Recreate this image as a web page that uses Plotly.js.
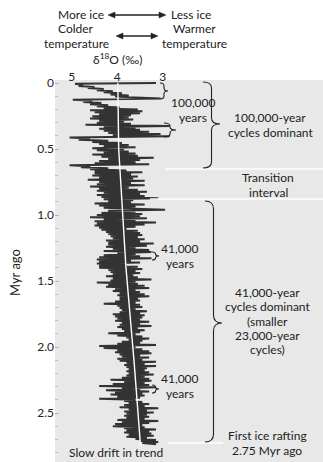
<!DOCTYPE html>
<html><head><meta charset="utf-8">
<script src="https://cdn.plot.ly/plotly-3.0.1.min.js"></script>
<style>html,body{margin:0;padding:0;background:#fff}#g{width:323px;height:462px}</style>
</head><body><div id="g"></div>
<script>
// Age (Myr ago) and delta-18O (per mil)
var ageMyr = [0.000,0.006,0.015,0.022,0.030,0.038,0.046,0.054,0.062,0.070,0.078,0.086,0.094,0.102,0.110,0.118,0.126,
0.135,0.143,0.152,0.160,0.168,0.176,0.185,0.193,0.200,0.207,0.214,0.221,0.228,0.236,0.244,0.252,0.260,0.268,0.276,0.284,0.292,0.300,0.308,0.316,0.325,
0.333,0.340,0.347,0.354,0.362,0.370,0.378,0.386,0.394,0.404,0.413,
0.422,0.430,0.438,0.446,0.454,0.462,0.470,0.478,0.486,0.494,0.502,0.510,0.518,0.526,0.534,0.542,0.550,0.558,0.566,0.575,0.583,0.591,0.600,0.608,0.616,0.622,
0.630,0.638,0.646,0.654,0.662,0.670,0.676,0.684,0.692,0.700,0.708,0.716,0.724,0.733,0.741,0.750,0.758,0.766,0.775,0.783,
0.792,0.800,0.808,0.816,0.824,0.832,0.840,0.848,0.856,0.864,0.872,0.880,0.888,0.896,0.904,0.912,0.920,0.928,0.936,0.944,
0.952,0.960,0.968,0.976,0.984,0.992,1.000,1.008,1.016,1.024,1.032,1.040,1.048,1.056,1.064,1.072,1.080,1.088,1.096,1.104,1.112,
1.120,1.128,1.136,1.144,1.152,1.160,1.168,1.176,1.184,1.192,1.200,1.208,1.216,1.224,1.232,1.240,1.248,1.256,1.264,1.272,1.280,1.288,
1.296,1.304,1.312,1.320,1.328,1.336,1.344,1.352,1.360,1.368,1.376,1.384,1.392,1.400,1.408,1.416,1.424,1.432,1.440,1.448,1.456,
1.464,1.472,1.480,1.488,1.496,1.504,1.512,1.520,1.528,1.536,1.544,1.552,1.560,1.568,1.576,1.584,1.592,1.600,1.608,1.616,1.624,
1.632,1.640,1.648,1.656,1.664,1.672,1.680,1.688,1.696,1.704,1.712,1.720,1.728,1.736,1.744,1.752,1.760,1.768,1.776,1.784,1.792,1.800,1.808,
1.816,1.824,1.832,1.840,1.848,1.856,1.864,1.872,1.880,1.888,1.896,1.904,1.912,1.920,1.928,1.936,1.944,1.952,1.960,1.968,1.976,1.984,1.992,2.000,2.008,
2.016,2.024,2.032,2.040,2.048,2.056,2.064,2.072,2.080,2.088,2.096,2.104,2.112,2.120,2.128,2.136,2.144,2.152,2.160,2.168,2.176,2.184,2.192,2.200,2.208,2.216,2.224,
2.232,2.240,2.248,2.256,2.264,2.272,2.280,2.288,2.296,2.304,2.312,2.320,2.328,2.336,2.344,2.352,2.360,2.368,2.376,2.384,2.392,2.400,2.408,2.416,
2.424,2.432,2.440,2.448,2.456,2.464,2.472,2.480,2.488,2.496,2.504,2.512,2.520,2.528,2.536,2.544,2.552,2.560,2.568,2.576,2.584,2.592,2.600,
2.608,2.616,2.624,2.632,2.640,2.648,2.656,2.664,2.672,2.680,2.688,2.696,2.704,2.712,2.720,2.728,2.736];
var d18O = [3.15,4.93,4.75,4.85,4.50,4.65,4.30,4.45,4.10,4.30,3.90,4.15,3.75,4.05,3.60,3.05,4.98,
4.55,4.75,4.35,4.60,4.20,4.45,3.95,4.30,3.55,4.60,3.45,4.50,3.50,4.40,3.70,4.55,3.75,4.60,3.65,4.40,3.85,4.45,3.70,4.70,2.85,
4.30,3.60,4.40,3.50,4.30,3.30,4.20,3.05,4.10,2.85,5.05,
4.60,4.85,4.20,4.55,3.90,4.40,3.75,4.30,3.60,4.55,3.85,4.45,3.75,4.30,3.60,4.55,3.55,4.35,3.20,4.20,3.50,4.40,3.60,4.50,3.30,5.05,
4.60,4.80,4.20,4.60,3.80,4.50,3.45,4.50,3.70,4.55,3.55,4.40,3.65,4.65,3.40,4.40,3.70,4.45,3.40,4.60,
3.75,4.40,3.55,4.45,3.35,4.30,3.50,4.45,3.40,4.35,3.10,4.30,3.65,4.20,3.70,4.50,3.40,4.40,3.60,4.30,
3.50,2.95,4.20,3.60,4.35,3.45,4.45,3.50,4.60,3.35,4.30,3.60,4.50,3.15,4.45,3.40,4.50,3.60,4.40,3.80,4.35,
3.55,4.25,3.50,4.20,3.45,4.15,3.55,4.10,3.40,4.25,3.50,4.20,3.20,4.20,3.35,4.25,3.60,4.10,3.30,4.30,3.25,4.00,
3.60,4.30,3.50,4.40,3.25,4.45,3.70,4.40,3.50,4.45,3.80,4.40,3.55,4.40,3.45,4.20,3.60,4.15,3.50,4.10,3.65,
4.25,3.55,4.10,3.25,4.15,3.60,4.45,3.55,4.20,3.40,4.25,3.30,4.05,3.60,4.10,3.50,3.95,3.40,4.00,3.30,3.95,
3.55,3.95,3.50,4.05,3.60,4.30,3.50,4.00,3.45,3.95,3.60,3.90,3.35,3.95,3.50,4.10,3.40,4.05,3.45,4.00,3.50,4.05,3.30,
3.90,3.50,3.95,3.25,4.00,3.55,3.90,3.40,3.85,3.50,4.20,3.60,4.00,3.45,3.80,3.30,3.75,3.45,3.90,3.50,4.00,3.15,4.40,3.60,4.30,
3.45,4.00,3.30,4.05,3.25,3.95,3.50,3.90,3.30,4.00,3.45,3.95,3.15,3.80,3.40,3.85,3.15,3.80,3.35,3.75,3.40,3.80,3.30,3.75,3.20,3.80,3.40,
3.90,3.30,4.15,3.25,3.85,3.40,4.10,3.30,4.40,3.15,3.90,3.50,4.25,3.30,4.05,3.45,4.15,3.40,4.00,3.50,4.40,3.60,3.85,3.45,
3.75,3.30,3.85,3.40,3.95,3.10,3.75,3.35,3.85,3.20,3.80,3.35,3.85,3.30,3.80,3.40,4.00,3.10,3.90,3.30,4.05,3.45,4.10,
3.40,3.85,3.15,3.80,3.30,3.85,3.25,3.75,3.20,3.80,3.35,3.60,3.15,3.50,3.10,3.45,3.15];
// Slow drift in trend (white line)
var trendAge = [0, 0.5, 1.4, 2.12, 2.75];
var trendVal = [3.99, 3.97, 3.81, 3.63, 3.49];
var xTicks = [5, 4, 3];
var yTicks = [0, 0.5, 1, 1.5, 2, 2.5];
var yTickText = ['0', '0.5', '1.0', '1.5', '2.0', '2.5'];

// layout geometry (pixels)
var W = 323, H = 462, L = 55, T = 80;
var PW = W - L, PH = H - T;
function px(x){ return (x - L) / PW; }
function py(y){ return (H - y) / PH; }
var FONT = 'Lato, "Open Sans", sans-serif';
var ann = [];
function txt(t, x, y, opt){
  opt = opt || {};
  ann.push(Object.assign({text: t, xref: 'paper', yref: 'paper', x: px(x), y: py(y),
    xanchor: 'center', yanchor: 'middle', showarrow: false, borderpad: 0,
    font: {family: FONT, size: opt.size || 12, color: '#222'}}, opt.extra || {}));
}
function block(lines, x, yc, gap){
  var n = lines.length;
  for (var i = 0; i < n; i++) txt(lines[i], x, yc + (i - (n - 1) / 2) * gap);
}
function P(x, y){ return px(x).toFixed(4) + ',' + py(y).toFixed(4); }
function brace(xl, xr, yt, yb, ytip, r){
  var xm = (xl + xr) / 2;
  return 'M' + P(xl, yt) + ' Q' + P(xm, yt) + ' ' + P(xm, yt + r) +
    ' L' + P(xm, ytip - r) + ' Q' + P(xm, ytip) + ' ' + P(xr, ytip) +
    ' Q' + P(xm, ytip) + ' ' + P(xm, ytip + r) +
    ' L' + P(xm, yb - r) + ' Q' + P(xm, yb) + ' ' + P(xl, yb);
}
var shapes = [];
function addPath(d, w){ shapes.push({type: 'path', xref: 'paper', yref: 'paper', path: d, line: {color: '#222', width: w || 1.1}}); }
function wline(x1, x2, y){ shapes.push({type: 'line', xref: 'paper', yref: 'paper', x0: px(x1), x1: px(x2), y0: py(y), y1: py(y), line: {color: '#ffffff', width: 1.6}}); }
function dblArrow(x1, x2, y){
  shapes.push({type: 'line', xref: 'paper', yref: 'paper', x0: px(x1 + 4), x1: px(x2 - 4), y0: py(y), y1: py(y), line: {color: '#222', width: 1.3}});
  shapes.push({type: 'path', xref: 'paper', yref: 'paper', path: 'M' + P(x1, y) + ' L' + P(x1 + 7, y - 3) + ' L' + P(x1 + 7, y + 3) + ' Z', fillcolor: '#222', line: {color: '#222', width: 0.5}});
  shapes.push({type: 'path', xref: 'paper', yref: 'paper', path: 'M' + P(x2, y) + ' L' + P(x2 - 7, y - 3) + ' L' + P(x2 - 7, y + 3) + ' Z', fillcolor: '#222', line: {color: '#222', width: 0.5}});
}

wline(165, 323, 169);
wline(150, 323, 199);
wline(168, 223, 443);
addPath(brace(203, 220, 82, 168, 124, 6));
addPath(brace(205, 222, 201, 442, 323, 8));
addPath(brace(160, 168, 83, 99, 91, 3));
addPath(brace(164, 176, 123, 137, 130, 3));
addPath(brace(152, 159, 252, 260, 256, 2));
addPath(brace(152, 159, 385, 393, 389, 2));
dblArrow(108, 166, 15);
dblArrow(116, 158, 36);

txt('More ice', 105, 15, {extra: {xanchor: 'right'}});
txt('Less ice', 170, 15, {extra: {xanchor: 'left'}});
block(['Colder', 'temperature'], 76, 36, 14.5);
block(['Warmer', 'temperature'], 194, 36, 14.5);
txt('\u03b4<sup>18</sup>O (\u2030)', 117, 59);
txt('Myr ago', 15, 273, {size: 13, extra: {textangle: -90}});
block(['100,000', 'years'], 193, 110, 14.5);
block(['100,000-year', 'cycles dominant'], 270, 125, 14.5);
block(['Transition', 'interval'], 268, 185, 14.5);
block(['41,000', 'years'], 180, 256, 14.5);
block(['41,000-year', 'cycles dominant', '(smaller', '23,000-year', 'cycles)'], 267, 321, 14.2);
block(['41,000', 'years'], 180, 386, 14.5);
block(['First ice rafting', '2.75 Myr ago'], 267, 443, 14.2);
txt('Slow drift in trend', 116, 452);

var data = [
  {x: d18O, y: ageMyr, type: 'scatter', mode: 'lines', line: {color: '#333333', width: 2}, hoverinfo: 'skip'},
  {x: trendVal, y: trendAge, type: 'scatter', mode: 'lines', line: {color: '#ffffff', width: 1.4}, hoverinfo: 'skip'}
];
var layout = {
  width: W, height: H, margin: {l: L, r: 0, t: T, b: 0},
  paper_bgcolor: '#ffffff', plot_bgcolor: '#e8e8e8', showlegend: false,
  font: {family: FONT, size: 12, color: '#222'},
  xaxis: {range: [5.37, -0.52], side: 'top', tickvals: xTicks, ticktext: xTicks.map(String),
    showgrid: false, zeroline: false, showline: false, ticks: '', tickfont: {size: 12}, ticklabelstandoff: -4},
  yaxis: {range: [2.871, -0.023], tickvals: yTicks, ticktext: yTickText, showgrid: false,
    zeroline: false, showline: false, ticks: 'inside', ticklen: 4, tickcolor: '#b5b5b5',
    minor: {dtick: 0.1, ticks: 'inside', ticklen: 3, tickcolor: '#c0c0c0'}, tickfont: {size: 12}},
  annotations: ann, shapes: shapes
};
Plotly.newPlot('g', data, layout, {staticPlot: true, displayModeBar: false});
</script></body></html>
